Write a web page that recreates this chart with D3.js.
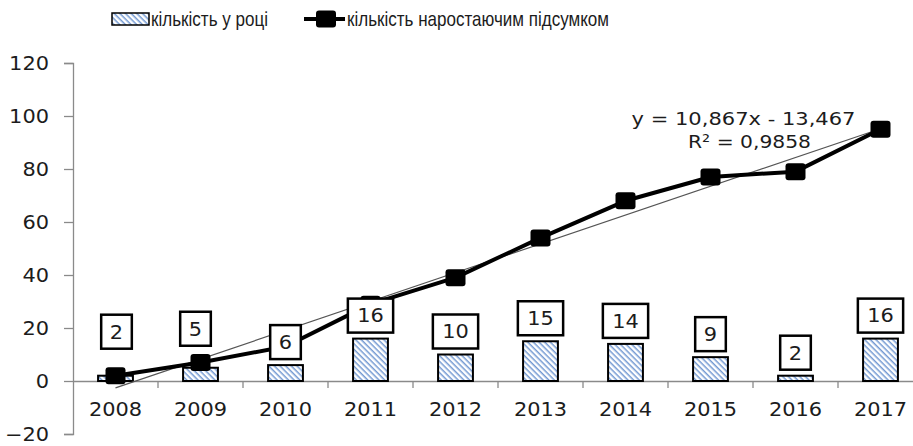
<!DOCTYPE html>
<html>
<head>
<meta charset="utf-8">
<script src="https://cdn.jsdelivr.net/npm/d3@7"></script>
<style>
  body { margin: 0; background: #fff; }
  text { font-family: "DejaVu Sans", sans-serif; fill: #1c1c1c; }
  .legend text { font-family: "Liberation Sans Narrow", "Liberation Sans", sans-serif; }
</style>
</head>
<body>
<svg id="chart" width="913" height="446"></svg>
<script>
const years = ["2008", "2009", "2010", "2011", "2012", "2013", "2014", "2015", "2016", "2017"];
const perYear = [2, 5, 6, 16, 10, 15, 14, 9, 2, 16];
const cumulative = [2, 7, 13, 29, 39, 54, 68, 77, 79, 95];
const yTicks = [-20, 0, 20, 40, 60, 80, 100, 120];
const trend = { slope: 10.867, intercept: -13.467, r2: 0.9858 };
const legendLabels = ["кількість у році", "кількість наростаючим підсумком"];
// labels that were dragged by hand in the original
const labelLift = [21, 16, 0, 0, 0, 0, 0, 0, 0, 0];
const labelNudge = [1, -5, 0, 0, 0, 0, 0, 0, 0, 0];

const svg = d3.select("#chart");

const defs = svg.append("defs");
const pat = defs.append("pattern")
    .attr("id", "hatch")
    .attr("patternUnits", "userSpaceOnUse")
    .attr("width", 4).attr("height", 4)
    .attr("patternTransform", "rotate(45)");
pat.append("rect").attr("width", 4).attr("height", 4).attr("fill", "#fff");
pat.append("rect").attr("width", 4).attr("height", 1.5).attr("fill", "#7399d2");

const x = d3.scaleBand().domain(years).range([73, 923]).padding(0);
const y = d3.scaleLinear().domain([-20, 120]).range([434, 63]);
const cx = d => x(d) + x.bandwidth() / 2;

function stretch(sel, k) {
    sel.each(function () {
        const w = this.getComputedTextLength();
        this.setAttribute("textLength", w * k);
        this.setAttribute("lengthAdjust", "spacingAndGlyphs");
    });
}

// y axis
const yAxis = svg.append("g")
    .attr("transform", "translate(73,0)")
    .call(d3.axisLeft(y).tickValues(yTicks).tickSize(9).tickPadding(15));
yAxis.select(".domain").attr("stroke", "#8a8a8a").attr("stroke-width", 1.3);
yAxis.selectAll(".tick line").attr("stroke", "#8a8a8a").attr("stroke-width", 1.3);
yAxis.selectAll(".tick text").attr("font-size", 19).attr("fill", "#1c1c1c")
    .style("font-family", "DejaVu Sans").call(stretch, 1.1);

// x axis at zero
const xAxis = svg.append("g")
    .attr("transform", `translate(0,${y(0)})`)
    .call(d3.axisBottom(x).tickSize(0).tickPadding(22));
xAxis.select(".domain").attr("stroke", "#8a8a8a").attr("stroke-width", 1.3);
xAxis.selectAll(".tick text").attr("font-size", 19).attr("fill", "#1c1c1c")
    .style("font-family", "DejaVu Sans").call(stretch, 1.1);
xAxis.selectAll(".sep")
    .data(years.slice(1))
    .join("line")
    .attr("class", "sep")
    .attr("x1", d => x(d)).attr("x2", d => x(d))
    .attr("y1", 0).attr("y2", 7)
    .attr("stroke", "#8a8a8a").attr("stroke-width", 1.3);

// bars
const barW = x.bandwidth() * 0.41;
svg.append("g").selectAll("rect")
    .data(perYear)
    .join("rect")
    .attr("x", (d, i) => cx(years[i]) - barW / 2)
    .attr("y", d => y(d))
    .attr("width", barW)
    .attr("height", d => y(0) - y(d))
    .attr("fill", "url(#hatch)")
    .attr("stroke", "#000")
    .attr("stroke-width", 2);

// trend line
const tr = i => trend.slope * (i + 1) + trend.intercept;
svg.append("line")
    .attr("x1", cx(years[0])).attr("y1", y(tr(0)))
    .attr("x2", cx(years[years.length - 1])).attr("y2", y(tr(years.length - 1)))
    .attr("stroke", "#555").attr("stroke-width", 1.2);

// cumulative line
const line = d3.line().x((d, i) => cx(years[i])).y(d => y(d));
svg.append("path")
    .datum(cumulative)
    .attr("d", line)
    .attr("fill", "none")
    .attr("stroke", "#000")
    .attr("stroke-width", 4)
    .attr("stroke-linejoin", "round");

function marker(g, px, py) {
    g.append("rect")
        .attr("x", px - 10).attr("y", py - 8.5)
        .attr("width", 20).attr("height", 17)
        .attr("rx", 3)
        .attr("fill", "#000");
}
const markers = svg.append("g");
cumulative.forEach((d, i) => marker(markers, cx(years[i]), y(d)));

// equation
const eq = svg.append("g").attr("font-size", 18);
eq.append("text")
    .attr("x", cx("2016") - 52).attr("y", 125)
    .attr("text-anchor", "middle")
    .attr("textLength", 224).attr("lengthAdjust", "spacingAndGlyphs")
    .text(`y = ${d3.format(".3f")(trend.slope).replace(".", ",")}x - ${d3.format(".3f")(-trend.intercept).replace(".", ",")}`);
eq.append("text")
    .attr("x", cx("2016") - 46).attr("y", 148)
    .attr("text-anchor", "middle")
    .attr("textLength", 123).attr("lengthAdjust", "spacingAndGlyphs")
    .text(`R² = ${String(trend.r2).replace(".", ",")}`);

// data labels
const labels = svg.append("g");
perYear.forEach((d, i) => {
    const g = labels.append("g");
    const bottom = y(d) - 6 - labelLift[i];
    const mx = cx(years[i]) + labelNudge[i];
    const t = g.append("text")
        .attr("x", mx)
        .attr("y", bottom - 17)
        .attr("dy", "0.36em")
        .attr("text-anchor", "middle")
        .attr("font-size", 19)
        .text(d);
    stretch(t, 1.1);
    const w = t.node().getComputedTextLength() * 1.1 + 16;
    g.insert("rect", "text")
        .attr("x", mx - w / 2)
        .attr("y", bottom - 34)
        .attr("width", w)
        .attr("height", 34)
        .attr("fill", "#fff")
        .attr("stroke", "#000")
        .attr("stroke-width", 2.5);
});

// legend
const legend = svg.append("g").attr("class", "legend").attr("font-size", 21);
legend.append("rect")
    .attr("x", 112).attr("y", 13).attr("width", 37).attr("height", 12)
    .attr("fill", "url(#hatch)").attr("stroke", "#000").attr("stroke-width", 1.5);
legend.append("text")
    .attr("x", 151).attr("y", 26)
    .attr("textLength", 117).attr("lengthAdjust", "spacingAndGlyphs")
    .text(legendLabels[0]);
legend.append("line")
    .attr("x1", 304).attr("x2", 345).attr("y1", 19).attr("y2", 19)
    .attr("stroke", "#000").attr("stroke-width", 4);
marker(legend, 326, 19);
legend.append("text")
    .attr("x", 347).attr("y", 26)
    .attr("textLength", 262).attr("lengthAdjust", "spacingAndGlyphs")
    .text(legendLabels[1]);
</script>
</body>
</html>
